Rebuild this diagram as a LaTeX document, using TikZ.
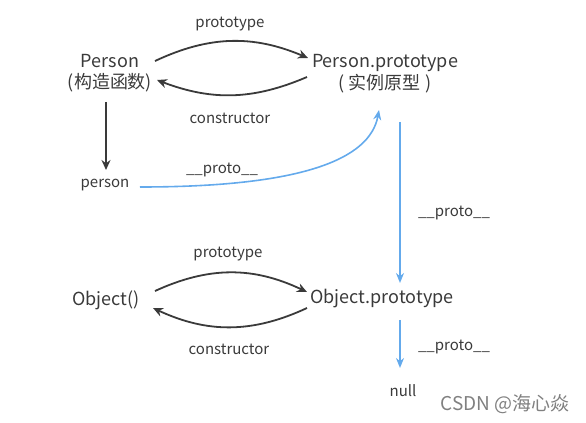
\documentclass[tikz,border=0pt]{standalone}
\usepackage{fontspec}
\setmainfont{Noto Sans CJK SC}
\usetikzlibrary{arrows.meta}
\definecolor{textgray}{HTML}{3A3A3A}
\definecolor{linkblue}{HTML}{64AAEC}
\begin{document}
\begin{tikzpicture}[
    x=0.5pt, y=0.5pt,
    obj/.style={text=textgray, font=\fontsize{9}{10.8}\selectfont, align=center, inner sep=1pt},
    lbl/.style={text=textgray, font=\fontsize{7.5}{9}\selectfont, inner sep=1pt},
    arrow/.style={-{Stealth[length=5pt, width=4.5pt]}, line width=0.9pt, draw=textgray},
    protolink/.style={-{Stealth[length=5pt, width=4pt]}, line width=0.8pt, draw=linkblue}
]
\useasboundingbox (0,0) rectangle (586,-423);

% Nodes
\node[obj] (ctor) at (110,-73) {Person\\(构造函数)};
\node[obj] (pproto) at (385,-73.5) {Person.prototype\\( 实例原型 )};
\node[lbl] (inst) at (105,-185) {person};
\node[obj] (objf) at (106,-300) {Object()};
\node[obj] (oproto) at (382,-299) {Object.prototype};
\node[lbl] (null) at (403,-391) {null};

% Labels
\node[lbl] (ptop) at (230,-24) {prototype};
\node[lbl] (ctop) at (230,-118) {constructor};
\node[lbl] (plink) at (222,-170) {\_\_proto\_\_};
\node[lbl] (pright) at (454,-213) {\_\_proto\_\_};
\node[lbl] (pbot) at (228,-254) {prototype};
\node[lbl] (cbot) at (229,-349) {constructor};
\node[lbl] (pnull) at (454,-347) {\_\_proto\_\_};
\node[text=gray, font=\fontsize{9.5}{11}\selectfont] (mark) at (505,-404) {CSDN @海心焱};

% Arrows
\draw[arrow] ([shift={(45,12)}]ctor.center) to[bend left=24] ([shift={(-77,15.5)}]pproto.center);
\draw[arrow] ([shift={(-78,-3.5)}]pproto.center) to[bend left=22] ([shift={(47,-7)}]ctor.center);
\draw[arrow] ([shift={(-4,-29)}]ctor.center) -- ([shift={(1,15)}]inst.center);
\draw[protolink] ([shift={(35,-2)}]inst.center) .. controls +(160,0) and +(-9,-50) .. ([shift={(-6,-36.5)}]pproto.center);
\draw[protolink] ([shift={(15,-48.5)}]pproto.center) -- ([shift={(18,16)}]oproto.center);

\draw[arrow] ([shift={(49,9)}]objf.center) to[bend left=25] ([shift={(-75,7)}]oproto.center);
\draw[arrow] ([shift={(-75,-9)}]oproto.center) to[bend left=25] ([shift={(47,-8)}]objf.center);
\draw[protolink] ([shift={(18,-21)}]oproto.center) -- ([shift={(-3,23)}]null.center);

\end{tikzpicture}
\end{document}
